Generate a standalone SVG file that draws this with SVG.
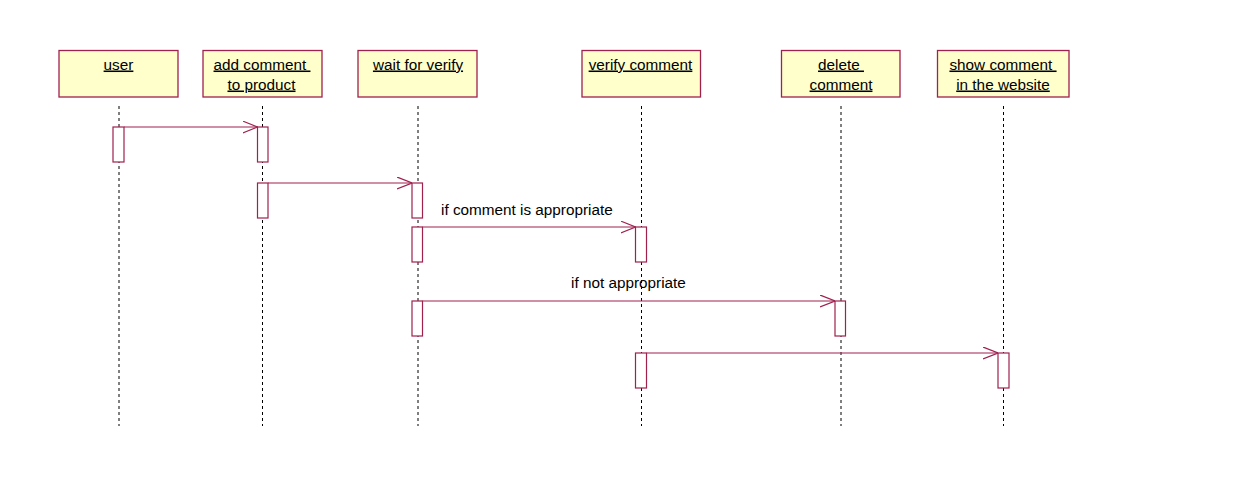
<svg xmlns="http://www.w3.org/2000/svg" width="1237" height="502" viewBox="0 0 1237 502">
<style>
.box{fill:#FFFFCC;stroke:#A0204E;stroke-width:1.3}
.life{stroke:#000;stroke-width:1;stroke-dasharray:3 3;fill:none}
.act{fill:#fff;stroke:#A0204E;stroke-width:1.2}
.msg{stroke:#A0204E;stroke-width:1.2;fill:none;marker-end:url(#open)}
.t{font-family:"Liberation Sans",Arial,sans-serif;font-size:15.3px;fill:#000;text-anchor:middle;text-decoration:underline;white-space:pre}
.lbl{font-family:"Liberation Sans",Arial,sans-serif;font-size:15.3px;fill:#000}
</style>
<defs>
<marker id="open" markerUnits="userSpaceOnUse" viewBox="0 0 15 13" refX="15" refY="6.5" markerWidth="15" markerHeight="13" orient="auto">
<path d="M0,0.5 L15,6.5 L0,12.5" fill="none" stroke="#A0204E" stroke-width="1.2"/>
</marker>
</defs>
<rect width="1237" height="502" fill="#fff"/>
<g id="user">
<rect class="box" x="59" y="50.5" width="119" height="46.5"/>
<line class="life" x1="119" y1="106" x2="119" y2="426"/>
<text class="t" x="118.5" y="69.5">user</text>
</g>
<g id="add-comment">
<rect class="box" x="203" y="50.5" width="119" height="46.5"/>
<line class="life" x1="262.5" y1="106" x2="262.5" y2="426"/>
<text class="t" x="262" y="69.5" xml:space="preserve">add comment </text>
<text class="t" x="261.5" y="89.5">to product</text>
</g>
<g id="wait-for-verify">
<rect class="box" x="358" y="50.5" width="119" height="46.5"/>
<line class="life" x1="418" y1="106" x2="418" y2="426"/>
<text class="t" x="418" y="69.5">wait for verify</text>
</g>
<g id="verify-comment">
<rect class="box" x="582" y="50.5" width="118.5" height="46.5"/>
<line class="life" x1="641.5" y1="106" x2="641.5" y2="426"/>
<text class="t" x="640.5" y="69.5">verify comment</text>
</g>
<g id="delete-comment">
<rect class="box" x="781.5" y="50.5" width="118.5" height="46.5"/>
<line class="life" x1="841" y1="106" x2="841" y2="426"/>
<text class="t" x="841" y="69.5" xml:space="preserve">delete </text>
<text class="t" x="841" y="89.5">comment</text>
</g>
<g id="show-comment">
<rect class="box" x="937.5" y="50.5" width="131.5" height="46.5"/>
<line class="life" x1="1003.5" y1="106" x2="1003.5" y2="426"/>
<text class="t" x="1003" y="69.5" xml:space="preserve">show comment </text>
<text class="t" x="1003" y="89.5">in the website</text>
</g>
<g id="activations">
<rect class="act" x="113" y="127" width="11" height="35"/>
<rect class="act" x="257.5" y="127" width="10.5" height="35"/>
<rect class="act" x="257.5" y="183" width="10.5" height="35"/>
<rect class="act" x="412" y="183" width="10.5" height="35"/>
<rect class="act" x="412" y="227" width="10.5" height="35"/>
<rect class="act" x="635.5" y="227" width="11" height="35"/>
<rect class="act" x="412" y="301" width="10.5" height="35"/>
<rect class="act" x="835" y="301" width="10.5" height="35"/>
<rect class="act" x="635.5" y="353" width="11" height="35"/>
<rect class="act" x="998" y="353" width="11" height="35"/>
</g>
<g id="connectors">
<line class="msg" x1="124" y1="127" x2="257.5" y2="127"/>
<line class="msg" x1="268" y1="183" x2="412" y2="183"/>
<line class="msg" x1="422.5" y1="227" x2="635.5" y2="227"/>
<text class="lbl" x="441" y="214.5">if comment is appropriate</text>
<line class="msg" x1="422.5" y1="301" x2="835" y2="301"/>
<text class="lbl" x="571" y="288">if not appropriate</text>
<line class="msg" x1="646.5" y1="353" x2="998" y2="353"/>
</g>
</svg>
